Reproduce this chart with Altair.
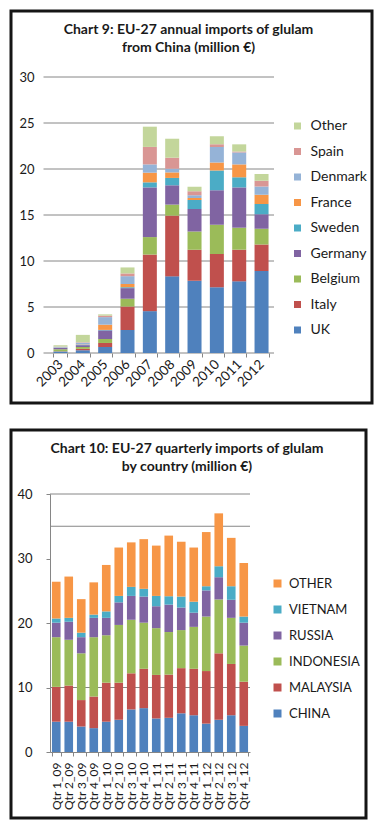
import altair as alt
import pandas as pd

FONT = "Lato"
TXT = "#1a1a1a"
GRID = "#868686"

# ---------------- Chart 9 data ----------------
years = ["2003", "2004", "2005", "2006", "2007", "2008", "2009", "2010", "2011", "2012"]
c9_series = ["UK", "Italy", "Belgium", "Germany", "Sweden", "France", "Denmark", "Spain", "Other"]
c9_colors = ["#4F81BD", "#C0504D", "#9BBB59", "#8064A2", "#4BACC6", "#F79646", "#95B3D7", "#D99694", "#C3D69B"]
uk = [0.15, 0.30, 0.65, 2.50, 4.55, 8.33, 7.86, 7.14, 7.79, 8.90]
italy = [0.05, 0.15, 0.44, 2.55, 6.15, 6.60, 3.37, 3.62, 3.44, 2.90]
belgium = [0.20, 0.20, 0.43, 0.85, 1.90, 1.20, 1.97, 3.19, 2.39, 1.70]
germany = [0.15, 0.20, 0.94, 1.15, 5.40, 2.10, 2.45, 3.75, 4.38, 1.57]
sweden = [0.02, 0.02, 0.05, 0.10, 0.55, 0.80, 0.98, 2.15, 1.10, 1.13]
france = [0.03, 0.05, 0.57, 0.35, 1.05, 0.60, 0.22, 0.85, 1.40, 1.00]
denmark = [0.08, 0.20, 0.82, 0.85, 0.90, 0.40, 0.29, 1.70, 1.30, 0.90]
spain = [0.03, 0.05, 0.16, 0.30, 1.90, 1.20, 0.43, 0.30, 0.10, 0.63]
other9 = [0.12, 0.80, 0.14, 0.65, 2.20, 2.06, 0.51, 0.85, 0.78, 0.73]
c9_values = [uk, italy, belgium, germany, sweden, france, denmark, spain, other9]
c9_ticks = [0, 5, 10, 15, 20, 25, 30]

# ---------------- Chart 10 data ----------------
quarters = ["Qtr 1_09", "Qtr 2_09", "Qtr 3_09", "Qtr 4_09",
            "Qtr 1_10", "Qtr 2_10", "Qtr 3_10", "Qtr 4_10",
            "Qtr 1_11", "Qtr 2_11", "Qtr 3_11", "Qtr 4_11",
            "Qtr 1_12", "Qtr 2_12", "Qtr 3_12", "Qtr 4_12"]
c10_series = ["CHINA", "MALAYSIA", "INDONESIA", "RUSSIA", "VIETNAM", "OTHER"]
c10_colors = ["#4F81BD", "#C0504D", "#9BBB59", "#8064A2", "#4BACC6", "#F79646"]
china = [4.7, 4.7, 3.95, 3.7, 4.7, 5.0, 6.6, 6.8, 5.2, 5.3, 6.0, 5.7, 4.4, 5.0, 5.7, 4.05]
malaysia = [5.4, 5.6, 4.1, 4.9, 6.05, 5.75, 5.6, 6.1, 6.75, 6.7, 7.0, 7.2, 8.15, 10.3, 7.95, 6.85]
indonesia = [7.7, 7.1, 7.25, 9.2, 7.35, 8.95, 8.3, 7.15, 7.25, 6.6, 5.9, 6.5, 8.45, 8.35, 7.15, 5.6]
russia = [2.25, 2.8, 2.5, 3.0, 2.7, 3.5, 3.7, 4.05, 3.4, 4.25, 3.5, 2.2, 4.05, 3.45, 2.8, 3.55]
vietnam = [0.65, 0.6, 0.7, 0.5, 1.0, 1.0, 1.4, 1.2, 1.6, 1.3, 1.7, 1.7, 0.65, 1.7, 2.1, 0.95]
other10 = [5.7, 6.4, 5.2, 5.0, 7.2, 7.5, 6.9, 7.7, 7.8, 9.4, 8.5, 8.4, 8.4, 8.2, 7.5, 8.3]
c10_values = [china, malaysia, indonesia, russia, vietnam, other10]
c10_ticks = [0, 5, 10, 15, 20, 25, 30, 35, 40]
c10_grid = [10, 35, 40]

# ---------------- tables ----------------
rows9 = []
for i, (s, vals) in enumerate(zip(c9_series, c9_values)):
    for y, v in zip(years, vals):
        rows9.append({"year": y, "country": s, "value": v, "idx": i})
df9 = pd.DataFrame(rows9)

rows10 = []
for i, (s, vals) in enumerate(zip(c10_series, c10_values)):
    for q, v in zip(quarters, vals):
        rows10.append({"quarter": q, "source": s, "value": v, "idx": i})
df10 = pd.DataFrame(rows10)

one = pd.DataFrame({"k": [0]})

# ---------------- Chart 9 ----------------
grid9 = alt.Chart(pd.DataFrame({"g": c9_ticks})).mark_rule(color=GRID, strokeWidth=1).encode(
    y=alt.Y("g:Q"), x=alt.value(-6.5), x2=alt.value(224))
bars9 = alt.Chart(df9).mark_bar().encode(
    x=alt.X("year:N", sort=years,
            scale=alt.Scale(paddingInner=0.373, paddingOuter=0.2, align=0.39),
            axis=alt.Axis(title=None, labelAngle=-45, labelAlign="right", labelBaseline="middle",
                          labelFontSize=13.5, labelPadding=5, tickBand="extent", tickSize=4,
                          domain=False, tickColor=GRID, labelColor=TXT, labelFont=FONT)),
    y=alt.Y("value:Q", stack="zero", scale=alt.Scale(domain=[0, 30]),
            axis=alt.Axis(title=None, values=c9_ticks, grid=False, domain=False,
                          ticks=False, labelPadding=16, labelFontSize=13, labelColor=TXT, labelFont=FONT)),
    color=alt.Color("country:N",
                    scale=alt.Scale(domain=c9_series[::-1], range=c9_colors[::-1]),
                    legend=alt.Legend(title=None, orient="none", legendX=240.5, legendY=42,
                                      symbolType="square", symbolSize=49, symbolStrokeWidth=0,
                                      labelFontSize=14, labelFont=FONT, labelColor=TXT,
                                      rowPadding=11.5, labelOffset=6, padding=0)),
    order=alt.Order("idx:Q", sort="ascending"),
)
frame9 = alt.Chart(one).mark_rect(fillOpacity=0, stroke="#151515", strokeWidth=3).encode(
    x=alt.value(-39), x2=alt.value(322), y=alt.value(-66), y2=alt.value(326))
title9 = alt.Chart(one).mark_text(font=FONT, fontSize=14, fontWeight="bold", align="center",
                                  baseline="middle", lineHeight=18, color=TXT).encode(
    x=alt.value(138.5), y=alt.value(-47),
    text=alt.value(["Chart 9: EU-27 annual imports of  glulam", "from China (million \u20ac)"]))
chart9 = alt.layer(grid9, bars9, frame9, title9).properties(width=224, height=276)

# ---------------- Chart 10 ----------------
grid10 = alt.Chart(pd.DataFrame({"g": c10_grid})).mark_rule(color=GRID, strokeWidth=1).encode(
    y=alt.Y("g:Q"))
bars10 = alt.Chart(df10).mark_bar().encode(
    x=alt.X("quarter:N", sort=quarters,
            scale=alt.Scale(paddingInner=0.31, paddingOuter=0.155),
            axis=alt.Axis(title=None, labelAngle=-90, labelAlign="right", labelBaseline="middle",
                          labelFontSize=12, labelPadding=6, tickBand="extent", tickSize=4,
                          domainColor=GRID, tickColor=GRID, labelColor=TXT, labelFont=FONT)),
    y=alt.Y("value:Q", stack="zero", scale=alt.Scale(domain=[0, 40]),
            axis=alt.Axis(title=None, values=c10_ticks, grid=False, domain=True, domainColor=GRID,
                          ticks=True, tickSize=4, tickColor=GRID, labelPadding=14,
                          labelFontSize=13, labelColor=TXT, labelFont=FONT)),
    color=alt.Color("source:N",
                    scale=alt.Scale(domain=c10_series[::-1], range=c10_colors[::-1]),
                    legend=alt.Legend(title=None, orient="none", legendX=221, legendY=83,
                                      symbolType="square", symbolSize=64, symbolStrokeWidth=0,
                                      labelFontSize=13, labelFont=FONT, labelColor=TXT,
                                      rowPadding=12, labelOffset=5, padding=0)),
    order=alt.Order("idx:Q", sort="ascending"),
)
frame10 = alt.Chart(one).mark_rect(fillOpacity=0, stroke="#151515", strokeWidth=3).encode(
    x=alt.value(-39), x2=alt.value(316), y=alt.value(-64), y2=alt.value(324))
title10 = alt.Chart(one).mark_text(font=FONT, fontSize=14, fontWeight="bold", align="center",
                                   baseline="middle", lineHeight=18, color=TXT).encode(
    x=alt.value(137), y=alt.value(-45),
    text=alt.value(["Chart 10: EU-27 quarterly imports of glulam", "by country (million \u20ac)"]))
chart10 = alt.layer(grid10, bars10, frame10, title10).properties(width=200, height=258)

chart = alt.vconcat(chart9, chart10, spacing=23).resolve_scale(
    x="independent", y="independent", color="independent"
).properties(padding={"left": 1, "top": 1, "right": 0, "bottom": 0}).configure_view(strokeWidth=0)

chart.save("out.html", embed_options={"renderer": "svg", "actions": False})
